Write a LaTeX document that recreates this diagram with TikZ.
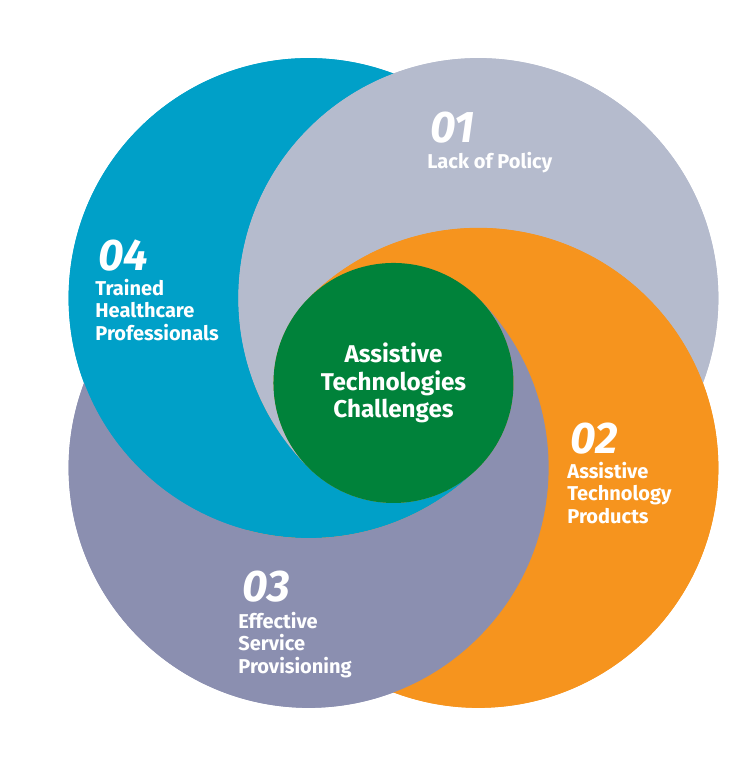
\documentclass[tikz,border=0pt]{standalone}
\usepackage{fontspec}
\setmainfont{Fira Sans}
\definecolor{ringGray}{HTML}{B5BBCD}
\definecolor{ringOrange}{HTML}{F6941E}
\definecolor{ringPurple}{HTML}{8B8FB0}
\definecolor{ringBlue}{HTML}{00A0C8}
\definecolor{hubGreen}{HTML}{00823A}

\begin{document}
\begin{tikzpicture}[
    ring/.style={fill=#1},
    num label/.style={font=\fontsize{21}{24}\selectfont\bfseries\itshape, text=white, inner sep=0pt, anchor=base west},
    item text/.style={font=\fontsize{9.5}{10.9}\selectfont\bfseries, text=white, inner sep=0pt, anchor=base west, align=left},
    hub/.style={circle, fill=hubGreen, minimum size=4cm, inner sep=0pt, text=white, align=center, font=\fontsize{11.5}{13}\selectfont\bfseries}
]

\useasboundingbox (-6.558,-6.417) rectangle (5.942,6.383);

% Ring centres
\coordinate (c01) at (45:2);
\coordinate (c02) at (-45:2);
\coordinate (c03) at (-135:2);
\coordinate (c04) at (135:2);

% Full rings underneath
\fill[ring=ringPurple] (c03) circle (4);
\fill[ring=ringBlue] (c04) circle (4);
\fill[ring=ringGray] (c01) circle (4);
\fill[ring=ringOrange] (c02) circle (4);

% Swirl: visible part of each ring, same shape turned by 90 degrees
\foreach \turn/\col in {0/ringBlue, -90/ringGray, -180/ringOrange, -270/ringPurple}{
    \begin{scope}[rotate=\turn]
        \fill[ring=\col] (-45:2)
            arc[start angle=315, end angle=69.295, radius=4]
            arc[start angle=110.705, end angle=225, radius=4]
            arc[start angle=225, end angle=315, radius=2] -- cycle;
    \end{scope}
}

% Centre
\node[hub] (hub) at (0,0) {Assistive\\Technologies\\Challenges};

% Labels
\node[num label] (n01) at (0.608,4.0) {01};
\node[item text] (t01) at (0.558,3.57) {Lack of Policy};

\node[num label] (n02) at (2.942,-1.183) {02};
\node[item text] (t02) at (2.892,-2.35) {Assistive\\Technology\\Products};

\node[num label] (n03) at (-2.525,-3.65) {03};
\node[item text] (t03) at (-2.592,-4.85) {Effective\\Service\\Provisioning};

\node[num label] (n04) at (-4.925,1.867) {04};
\node[item text] (t04) at (-4.975,0.7) {Trained\\Healthcare\\Professionals};

\end{tikzpicture}
\end{document}
